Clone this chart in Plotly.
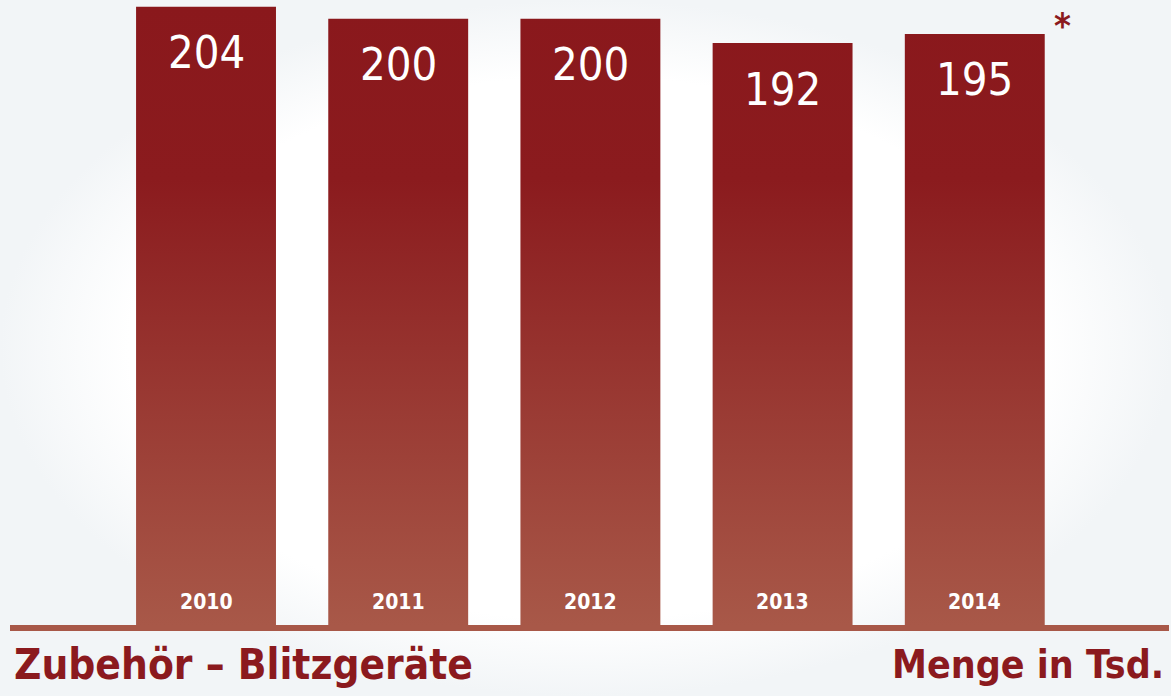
import plotly.graph_objects as go

years = ["2010", "2011", "2012", "2013", "2014"]
values = [204, 200, 200, 192, 195]
title_left = "Zubehör – Blitzgeräte"
title_right = "Menge in Tsd."
footnote_mark = "*"

DARK = "#8A181C"
LIGHT = "#A85848"
TEXT_RED = "#8B1A1E"
FONT = "DejaVu Sans Condensed, DejaVu Sans, sans-serif"

W, H = 1171, 696
bar_w = 0.728
x_range = [-1.072, 5.021]
y_range = [-23.42, 206.2]

fig = go.Figure()

# background radial gradient (base axes, below everything)
fig.add_trace(go.Scatter(
    x=[0, 1, 1, 0, 0], y=[0, 0, 1, 1, 0], mode="lines", line=dict(width=0),
    fill="toself",
    fillgradient=dict(type="radial", colorscale=[[0, "#FFFFFF"], [0.78, "#FFFFFF"], [1, "#F2F5F7"]]),
    hoverinfo="skip", showlegend=False, xaxis="x", yaxis="y",
))

# bars with vertical gradient
for i, (yr, v) in enumerate(zip(years, values)):
    x0, x1 = i - bar_w / 2, i + bar_w / 2
    fig.add_trace(go.Scatter(
        x=[x0, x1, x1, x0, x0], y=[0, 0, v, v, 0], mode="lines", line=dict(width=0),
        fill="toself",
        fillgradient=dict(type="vertical", start=0, stop=max(values),
                          colorscale=[[0, LIGHT], [0.72, "#8B1B1E"], [1, DARK]]),
        hoverinfo="skip", showlegend=False, xaxis="x2", yaxis="y2",
    ))
    fig.add_annotation(x=i, y=v, xref="x2", yref="y2", text=str(v), showarrow=False,
                       yanchor="middle", yshift=-46,
                       font=dict(family=FONT, size=45, color="white", weight=500))
    fig.add_annotation(x=i, y=0, xref="x2", yref="y2", text=yr, showarrow=False,
                       yanchor="middle", yshift=23,
                       font=dict(family=FONT, size=21, color="white", weight="bold"))

# asterisk next to last bar
fig.add_annotation(x=len(values) - 1 + bar_w / 2, y=values[-1], xref="x2", yref="y2",
                   text=footnote_mark, showarrow=False, xanchor="center", yanchor="middle",
                   xshift=18, yshift=8,
                   font=dict(family=FONT, size=36, color=TEXT_RED, weight="bold"))

# baseline
fig.add_shape(type="rect", xref="paper", yref="y2", x0=10 / W, x1=1169 / W, y0=0, y1=-2,
              fillcolor=LIGHT, line=dict(width=0), layer="above")

fig.add_annotation(xref="paper", yref="paper", x=12 / W, y=1 - 664 / H, xanchor="left", yanchor="middle",
                   text=title_left, showarrow=False,
                   font=dict(family=FONT, size=42, color=TEXT_RED, weight="bold"))
fig.add_annotation(xref="paper", yref="paper", x=1166 / W, y=1 - 664 / H, xanchor="right", yanchor="middle",
                   text=title_right, showarrow=False,
                   font=dict(family=FONT, size=39, color=TEXT_RED, weight="bold"))

ax_off = dict(visible=False, showgrid=False, zeroline=False, fixedrange=True)
fig.update_layout(
    width=W, height=H,
    margin=dict(l=0, r=0, t=0, b=0),
    paper_bgcolor="white", plot_bgcolor="rgba(0,0,0,0)",
    xaxis=dict(range=[0, 1], **ax_off),
    yaxis=dict(range=[0, 1], **ax_off),
    xaxis2=dict(range=x_range, overlaying="x", **ax_off),
    yaxis2=dict(range=y_range, overlaying="y", **ax_off),
    showlegend=False,
)

fig.write_html("out.html", config={"displayModeBar": False},
               post_script="document.body.style.margin='0';document.body.style.overflow='hidden';")
